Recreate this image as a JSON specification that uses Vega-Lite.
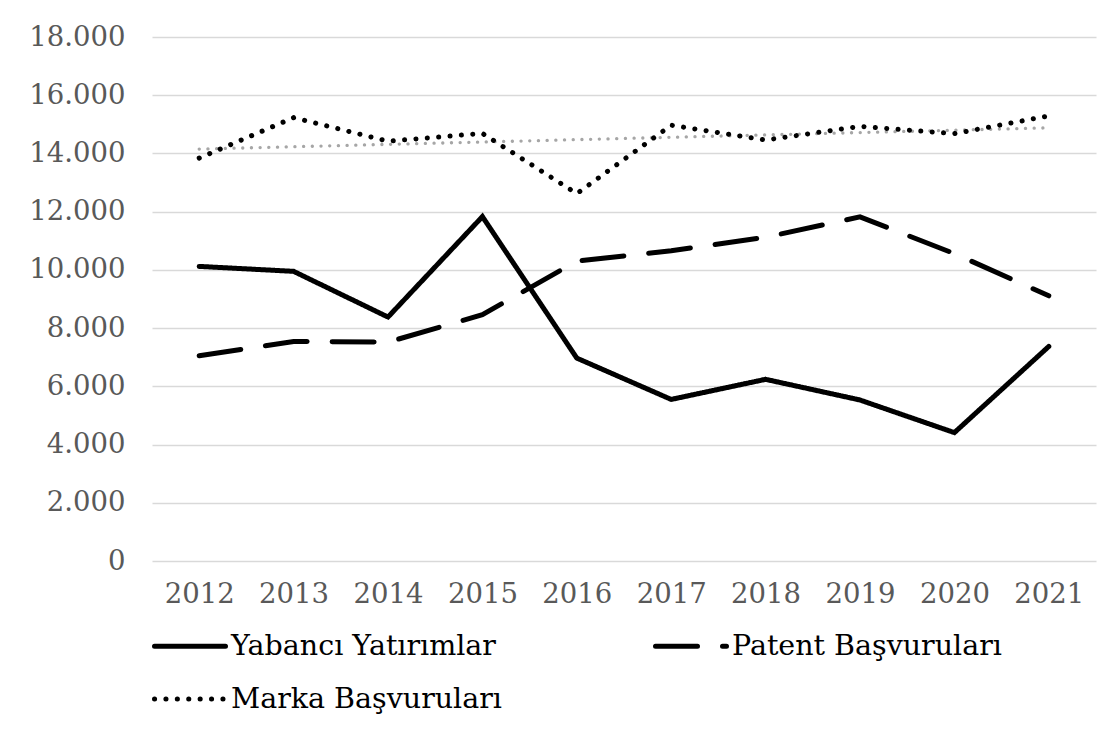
{
  "$schema": "https://vega.github.io/schema/vega-lite/v6.json",
  "width": 944,
  "height": 524,
  "autosize": "none",
  "padding": {"left": 152, "top": 37, "right": 21, "bottom": 172},
  "background": "white",
  "config": {"view": {"stroke": null}, "legend": {"padding": 0}},
  "data": {
    "values": [
      {"year": "2012", "series": "Yabancı Yatırımlar", "value": 10120},
      {"year": "2013", "series": "Yabancı Yatırımlar", "value": 9950},
      {"year": "2014", "series": "Yabancı Yatırımlar", "value": 8380},
      {"year": "2015", "series": "Yabancı Yatırımlar", "value": 11830},
      {"year": "2016", "series": "Yabancı Yatırımlar", "value": 6970},
      {"year": "2017", "series": "Yabancı Yatırımlar", "value": 5550},
      {"year": "2018", "series": "Yabancı Yatırımlar", "value": 6240},
      {"year": "2019", "series": "Yabancı Yatırımlar", "value": 5530},
      {"year": "2020", "series": "Yabancı Yatırımlar", "value": 4410},
      {"year": "2021", "series": "Yabancı Yatırımlar", "value": 7370},
      {"year": "2012", "series": "Patent Başvuruları", "value": 7050},
      {"year": "2013", "series": "Patent Başvuruları", "value": 7540},
      {"year": "2014", "series": "Patent Başvuruları", "value": 7520},
      {"year": "2015", "series": "Patent Başvuruları", "value": 8460},
      {"year": "2016", "series": "Patent Başvuruları", "value": 10300},
      {"year": "2017", "series": "Patent Başvuruları", "value": 10660},
      {"year": "2018", "series": "Patent Başvuruları", "value": 11120},
      {"year": "2019", "series": "Patent Başvuruları", "value": 11820},
      {"year": "2020", "series": "Patent Başvuruları", "value": 10560},
      {"year": "2021", "series": "Patent Başvuruları", "value": 9110},
      {"year": "2012", "series": "Marka Başvuruları", "value": 13840},
      {"year": "2013", "series": "Marka Başvuruları", "value": 15230},
      {"year": "2014", "series": "Marka Başvuruları", "value": 14420},
      {"year": "2015", "series": "Marka Başvuruları", "value": 14690},
      {"year": "2016", "series": "Marka Başvuruları", "value": 12620},
      {"year": "2017", "series": "Marka Başvuruları", "value": 14970},
      {"year": "2018", "series": "Marka Başvuruları", "value": 14460},
      {"year": "2019", "series": "Marka Başvuruları", "value": 14930},
      {"year": "2020", "series": "Marka Başvuruları", "value": 14680},
      {"year": "2021", "series": "Marka Başvuruları", "value": 15290},
      {"year": "2012", "series": "Trend", "value": 14150},
      {"year": "2021", "series": "Trend", "value": 14880}
    ]
  },
  "encoding": {
    "x": {
      "field": "year",
      "type": "ordinal",
      "scale": {"type": "point", "padding": 0.5},
      "axis": {
        "title": null,
        "labelAngle": 0,
        "domain": false,
        "ticks": false,
        "tickSize": 0,
        "grid": false,
        "labelPadding": 19,
        "labelFont": "DejaVu Serif",
        "labelFontSize": 27.5,
        "labelColor": "#595959"
      }
    },
    "y": {
      "field": "value",
      "type": "quantitative",
      "scale": {"domain": [0, 18000], "nice": false, "zero": true},
      "axis": {
        "title": null,
        "values": [0, 2000, 4000, 6000, 8000, 10000, 12000, 14000, 16000, 18000],
        "labelExpr": "replace(format(datum.value, ','), ',', '.')",
        "domain": false,
        "ticks": false,
        "tickSize": 0,
        "labelPadding": 27,
        "grid": true,
        "gridColor": "#d9d9d9",
        "gridWidth": 1.5,
        "labelFont": "DejaVu Serif",
        "labelFontSize": 27.5,
        "labelColor": "#595959"
      }
    }
  },
  "layer": [
    {
      "transform": [{"filter": "datum.series === 'Trend'"}],
      "mark": {"type": "line", "color": "#a6a6a6", "strokeWidth": 3.3, "strokeCap": "round", "strokeDash": [0.1, 8.6]},
      "encoding": {}
    },
    {
      "transform": [{"filter": "datum.series !== 'Trend'"}],
      "mark": {"type": "line", "color": "black", "strokeWidth": 5, "strokeCap": "round", "strokeJoin": "miter"},
      "encoding": {
        "strokeDash": {
          "field": "series",
          "type": "nominal",
          "scale": {
            "domain": ["Yabancı Yatırımlar", "Patent Başvuruları", "Marka Başvuruları"],
            "range": [[1, 0], [42, 25], [0.1, 11.3]]
          },
          "legend": {
            "title": null,
            "orient": "bottom",
            "direction": "horizontal",
            "columns": 2,
            "symbolType": "stroke",
            "symbolSize": 5041,
            "symbolStrokeWidth": 5,
            "symbolStrokeColor": "black",
            "labelFont": "DejaVu Serif",
            "labelFontSize": 28.5,
            "labelColor": "black",
            "labelOffset": 3,
            "labelLimit": 400,
            "columnPadding": 143,
            "rowPadding": -1,
            "offset": 0,
            "encode": {
              "symbols": {"update": {"strokeCap": {"value": "round"}, "opacity": {"value": 1}}}
            }
          }
        }
      }
    }
  ]
}
